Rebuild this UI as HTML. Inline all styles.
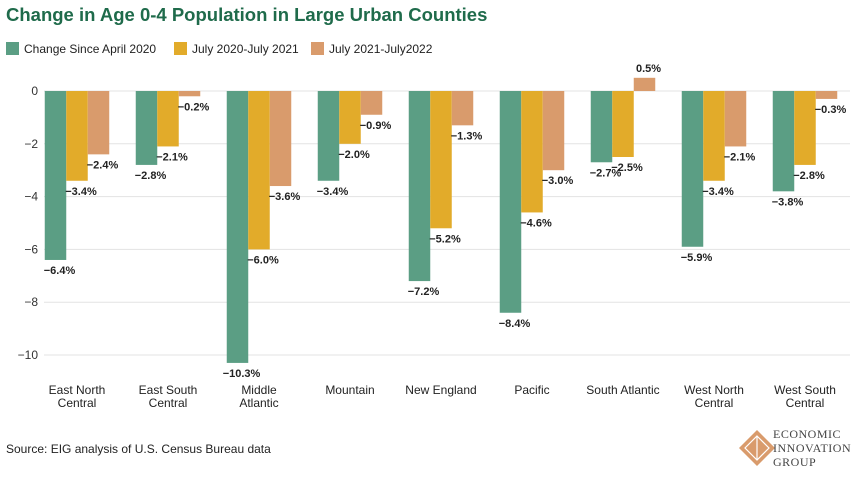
<!DOCTYPE html>
<html><head><meta charset="utf-8"><style>
body{margin:0;width:864px;height:479px;background:#fff;font-family:"Liberation Sans",sans-serif;overflow:hidden}
</style></head><body>
<svg id="c" width="864" height="479" xmlns="http://www.w3.org/2000/svg">
<text x="6" y="21" font-size="18.5" font-weight="bold" fill="#1f6b4b">Change in Age 0-4 Population in Large Urban Counties</text>
<g font-size="12" fill="#222">
<rect x="6" y="42" width="13" height="13" fill="#5b9e84"/><text x="24" y="53">Change Since April 2020</text>
<rect x="174" y="42" width="13" height="13" fill="#e2ab2a"/><text x="192" y="53">July 2020-July 2021</text>
<rect x="311" y="42" width="13" height="13" fill="#d99b6c"/><text x="329" y="53">July 2021-July2022</text>
</g>
<g id="plot"></g>
<text x="6" y="453" font-size="12" fill="#222">Source: EIG analysis of U.S. Census Bureau data</text>
<g>
<polygon points="757,430 775,448 757,466 739,448" fill="#d99b6c"/>
<polygon points="757,436 769,448 757,460 745,448" fill="none" stroke="#fff" stroke-width="1.2"/>
<line x1="757" y1="436" x2="757" y2="460" stroke="#fff" stroke-width="1.2"/>
<g font-family="Liberation Serif,serif" font-size="12" fill="#444" letter-spacing="0.5">
<text x="773" y="438">ECONOMIC</text><text x="773" y="452">INNOVATION</text><text x="773" y="466">GROUP</text></g>
</g>
</svg>
<script>
const categories=[["East North","Central"],["East South","Central"],["Middle","Atlantic"],["Mountain"],["New England"],["Pacific"],["South Atlantic"],["West North","Central"],["West South","Central"]];
const sinceApril2020=[-6.4,-2.8,-10.3,-3.4,-7.2,-8.4,-2.7,-5.9,-3.8];
const july2020to2021=[-3.4,-2.1,-6.0,-2.0,-5.2,-4.6,-2.5,-3.4,-2.8];
const july2021to2022=[-2.4,-0.2,-3.6,-0.9,-1.3,-3.0,0.5,-2.1,-0.3];
const yTicks=[0,-2,-4,-6,-8,-10];
const seriesNames=["since-2020","2020-2021","2021-2022"];
const colors=["#5b9e84","#e2ab2a","#d99b6c"];
const NS="http://www.w3.org/2000/svg";
const g=document.getElementById('plot');
const y=v=>91-v*26.4;
const xc=i=>77+i*91;
const bw=21.5;
function mk(t,a){const e=document.createElementNS(NS,t);for(const k in a)e.setAttribute(k,a[k]);g.appendChild(e);return e;}
yTicks.forEach(t=>{
 const l=mk('line',{x1:44,x2:850,y1:y(t),y2:y(t),stroke:'#e3e3e3','stroke-width':1});
 
 
 const tx=mk('text',{x:38,y:y(t)+4,'text-anchor':'end','font-size':12,fill:'#333'});
 tx.textContent=t===0?'0':'\u2212'+Math.abs(t);
 
 
});
const all=[sinceApril2020,july2020to2021,july2021to2022];
categories.forEach((c,i)=>{
 all.forEach((s,k)=>{
  const v=s[i];const x0=xc(i)-1.5*bw+k*bw;
  const r=mk('rect',{x:x0,y:Math.min(y(0),y(v)),width:bw,height:Math.abs(y(v)-y(0)),fill:colors[k]});
  
  
  const t=mk('text',{x:x0+bw/2+4,y:v<0?y(v)+14:y(v)-6,'text-anchor':'middle','font-size':11,'font-weight':'bold',fill:'#222'});
  t.textContent=(v<0?'\u2212':'')+Math.abs(v).toFixed(1)+'%';
  
  
 });
 c.forEach((line,j)=>{
  const t=mk('text',{x:xc(i),y:394+j*13,'text-anchor':'middle','font-size':12,fill:'#222'});
  t.textContent=line;
  
  
 });
});
</script>
</body></html>
